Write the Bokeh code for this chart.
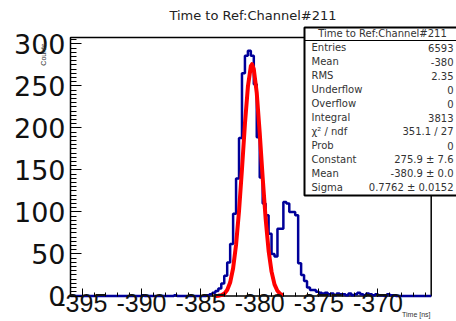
import numpy as np
from bokeh.plotting import figure
from bokeh.models import (Range1d, Label, BoxAnnotation, FixedTicker,
                          NumeralTickFormatter)
from bokeh.embed import file_html
from bokeh.resources import INLINE

# ---------------- data ----------------
bin_start = -396.0
bin_width = 0.25
# counts per bin, lower edges = bin_start + i*bin_width  (122 bins up to -365.5)
counts = [0] * 24 + [1] + [0] * 10 + [1] + [0] * 10 + [
    1, 2, 4, 6, 9, 15, 24, 40, 62, 98,          # -384.5 .. -382.25
    140, 188, 265, 286, 292, 286, 252, 189,     # -382.0 .. -380.25
    141, 110, 96, 74, 50, 47, 80, 80,           # -380.0 .. -378.25
    112, 110, 100, 100, 96, 39, 25, 18,         # -378.0 .. -376.25
    10, 7, 7, 5, 4, 3, 4, 2, 3, 1, 3, 2,        # -376.0 .. -373.25
    2, 1, 3, 1, 2, 4, 2, 1, 3, 2, 1, 2,         # -373.0 .. -370.25
    1, 1, 0, 2, 1, 1,                           # -370.0 .. -368.75
] + [0] * 12

fit_x = [-383.75, -383.5, -383.25, -383.0, -382.75, -382.5, -382.25, -382.0,
         -381.75, -381.5, -381.25, -381.0, -380.75, -380.65, -380.5, -380.25,
         -380.0, -379.75, -379.5, -379.25, -379.0, -378.75, -378.5, -378.25, -378.0]
fit_y = [0.1, 0.3, 1.0, 2.8, 7.1, 16, 33, 61,
         101, 151, 205, 249, 273.6, 275.9, 270, 241.6,
         194, 141, 92, 54, 29, 13.8, 6, 2.3, 0.8]

x_ticks = [-395, -390, -385, -380, -375, -370]
y_ticks = [0, 50, 100, 150, 200, 250, 300]
X_MIN, X_MAX = -396.0, -365.5
Y_MIN, Y_MAX = 0.0, 307.7

title_text = "Time to Ref:Channel#211"
x_title = "Time [ns]"
y_title = "Counts"
stat_names = ["Entries", "Mean", "RMS", "Underflow", "Overflow", "Integral",
              "\u03c7\u00b2 / ndf", "Prob", "Constant", "Mean", "Sigma"]
stat_values = ["6593", "-380", "2.35", "0", "0", "3813", "351.1 / 27", "0",
               "275.9 \u00b1 7.6", "-380.9 \u00b1 0.0", "0.7762 \u00b1 0.0152"]

# ---------------- layout (pixels) ----------------
W, H = 456, 321
FL, FR, FT, FB = 70.0, 430.7, 37.0, 295.5   # ROOT frame edges on the canvas
sx = (FR - FL) / (X_MAX - X_MIN)
sy = (FB - FT) / (Y_MAX - Y_MIN)
x_view = (X_MIN - FL / sx, X_MAX + (W - FR) / sx)
y_view = (Y_MIN - (H - FB) / sy, Y_MAX + FT / sy)

p = figure(width=W, height=H, output_backend="svg", toolbar_location=None,
           x_range=Range1d(*x_view), y_range=Range1d(*y_view),
           min_border=0, min_border_left=0, min_border_right=0,
           min_border_top=0, min_border_bottom=0)
p.title.visible = False
p.grid.visible = False
p.outline_line_color = None
p.background_fill_color = "white"
p.border_fill_color = "white"

# ROOT frame
p.add_layout(BoxAnnotation(left=X_MIN, right=X_MAX, bottom=Y_MIN, top=Y_MAX,
                           fill_alpha=0, line_color="black", line_width=1.5,
                           line_alpha=1.0, level="underlay"))

# histogram
edges = bin_start + bin_width * np.arange(len(counts) + 1)
ys = list(counts) + [counts[-1]]
p.step(x=edges, y=ys, mode="after", line_color="#000099", line_width=2.5)
# fit
p.line(fit_x, fit_y, line_color="red", line_width=4, line_join="round")

# axes (library axes, pinned to the ROOT frame edges)
xa = p.xaxis[0]
xa.fixed_location = Y_MIN
xa.bounds = (X_MIN, X_MAX)
xa.ticker = FixedTicker(ticks=x_ticks, minor_ticks=list(range(-396, -365)))
xa.formatter = NumeralTickFormatter(format="0")
xa.major_tick_in = 8
xa.major_tick_out = 0
xa.minor_tick_in = 4
xa.minor_tick_out = 0
xa.major_label_standoff = -2
xa.major_label_text_font = "Liberation Sans"
xa.major_label_text_font_size = "25px"
xa.major_label_text_color = "#111111"
xa.axis_line_color = None
xa.major_tick_line_color = "black"
xa.minor_tick_line_color = "black"

ya = p.yaxis[0]
ya.fixed_location = X_MIN
ya.bounds = (Y_MIN, Y_MAX)
ya.ticker = FixedTicker(ticks=y_ticks, minor_ticks=list(range(0, 306, 5)))
ya.formatter = NumeralTickFormatter(format="0")
ya.major_tick_in = 11
ya.major_tick_out = 0
ya.minor_tick_in = 6
ya.minor_tick_out = 0
ya.major_label_standoff = 5
ya.major_label_text_font = "DejaVu Sans"
ya.major_label_text_font_size = "27px"
ya.major_label_text_color = "#111111"
ya.axis_line_color = None


def fy(cy):
    return H - cy


# main title
p.add_layout(Label(x=252.5, y=fy(15), x_units="screen", y_units="screen",
                   text=title_text, text_align="center", text_baseline="middle",
                   text_font="DejaVu Sans", text_font_size="13px", text_color="#222222"))

# axis titles
p.add_layout(Label(x=42.5, y=fy(43), x_units="screen", y_units="screen",
                   text=y_title, angle=np.pi / 2, text_align="right",
                   text_baseline="middle", text_font="Liberation Sans",
                   text_font_size="7px", text_color="#333333"))
p.add_layout(Label(x=430, y=fy(314), x_units="screen", y_units="screen",
                   text=x_title, text_align="right", text_baseline="middle",
                   text_font="Liberation Sans", text_font_size="7px",
                   text_color="#333333"))

# stats box
p.add_layout(BoxAnnotation(left=304, right=480, top=fy(27), bottom=fy(195),
                           left_units="screen", right_units="screen",
                           top_units="screen", bottom_units="screen",
                           fill_color="white", fill_alpha=1.0,
                           line_color="black", line_width=2, line_alpha=1.0))
p.add_layout(BoxAnnotation(left=304, right=480, top=fy(39.5), bottom=fy(40.5),
                           left_units="screen", right_units="screen",
                           top_units="screen", bottom_units="screen",
                           fill_color="black", fill_alpha=1.0, line_alpha=0))
p.add_layout(Label(x=382, y=fy(33), x_units="screen", y_units="screen",
                   text=title_text, text_align="center", text_baseline="middle",
                   text_font="DejaVu Sans", text_font_size="10px", text_color="#333333"))
for i, (nm, vl) in enumerate(zip(stat_names, stat_values)):
    cy = 47 + 14 * i
    p.add_layout(Label(x=311, y=fy(cy), x_units="screen", y_units="screen",
                       text=nm, text_align="left", text_baseline="middle",
                       text_font="DejaVu Sans", text_font_size="10px",
                       text_color="#333333"))
    p.add_layout(Label(x=453, y=fy(cy), x_units="screen", y_units="screen",
                       text=vl, text_align="right", text_baseline="middle",
                       text_font="DejaVu Sans", text_font_size="10px",
                       text_color="#333333"))

open("out.html", "w").write(file_html(p, INLINE))
